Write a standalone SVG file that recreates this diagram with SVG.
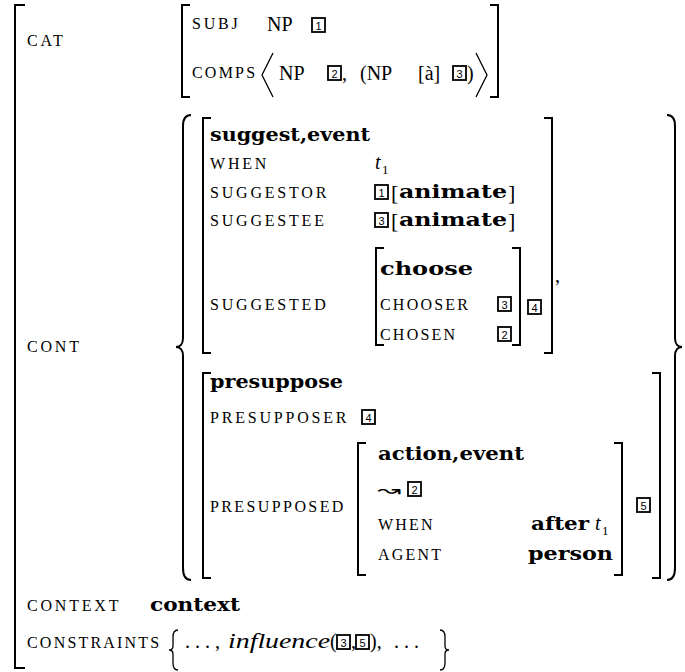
<svg xmlns="http://www.w3.org/2000/svg" width="685" height="672" viewBox="0 0 685 672">
<style>
.sc{font-family:"Liberation Serif",serif;font-size:16px;letter-spacing:2.8px}
.rm{font-family:"Liberation Serif",serif;font-size:20px}
.bk{font-family:"Liberation Serif",serif;font-size:22px}
.bf{font-family:"DejaVu Serif",serif;font-weight:bold;font-size:18px}
.it{font-family:"Liberation Serif",serif;font-style:italic;font-size:20px}
.sub{font-family:"Liberation Serif",serif;font-size:13px}
.br{fill:none;stroke:#000;stroke-width:2}
.thin{fill:none;stroke:#000;stroke-width:1.3}
.box{fill:#fff;stroke:#000;stroke-width:1.8}
.num{font-family:"Liberation Sans",sans-serif;font-size:11px;text-anchor:middle}
</style>
<rect width="685" height="672" fill="#fff"/>
<!-- outer bracket -->
<path class="br" d="M25,5 H15 V668 H25"/>
<!-- CAT -->
<text class="sc" x="27" y="46">CAT</text>
<path class="br" d="M190,5 H182 V97 H190"/>
<path class="br" d="M490,5 H498 V97 H490"/>
<text class="sc" x="192" y="29">SUBJ</text>
<text class="rm" x="267" y="31">NP</text>
<rect class="box" x="312" y="18" width="13" height="14"/><text class="num" x="318.5" y="29.5">1</text>
<text class="sc" x="192" y="78" style="letter-spacing:2.2px">COMPS</text>
<path class="thin" d="M273,53 L262,75 L273,97"/>
<text class="rm" x="279" y="80">NP</text>
<rect class="box" x="328" y="66" width="13" height="14"/><text class="num" x="334.5" y="77.5">2</text>
<text class="rm" x="342" y="80">,</text>
<text class="rm" x="360" y="80">(NP</text>
<text class="rm" x="418" y="80">[à]</text>
<rect class="box" x="453" y="66" width="13" height="14"/><text class="num" x="459.5" y="77.5">3</text>
<text class="rm" x="467" y="80">)</text>
<path class="thin" d="M476,53 L487,75 L476,97"/>
<!-- CONT -->
<text class="sc" x="27" y="352">CONT</text>
<path class="br" d="M191,115 C185,115 183,119 183,126 L183,338 C183,344 180,347 176,347 C180,347 183,350 183,356 L183,568 C183,575 185,580 191,580"/>
<path class="br" d="M667,115 C673,115 675,119 675,126 L675,338 C675,344 678,347 682,347 C678,347 675,350 675,356 L675,568 C675,575 673,580 667,580"/>
<!-- suggest matrix -->
<path class="br" d="M211,118 H203 V353 H211"/>
<path class="br" d="M544,118 H552 V353 H544"/>
<text class="bf" x="210" y="141" textLength="160" lengthAdjust="spacingAndGlyphs">suggest,event</text>
<text class="sc" x="210" y="169">WHEN</text>
<text class="it" x="375" y="169">t</text><text class="sub" x="382" y="174">1</text>
<text class="sc" x="210" y="198">SUGGESTOR</text>
<rect class="box" x="375" y="185" width="13" height="14"/><text class="num" x="381.5" y="196.5">1</text>
<text class="bk" x="391" y="200">[</text>
<text class="bf" x="399" y="198" textLength="108" lengthAdjust="spacingAndGlyphs">animate</text>
<text class="bk" x="508" y="200">]</text>
<text class="sc" x="210" y="226">SUGGESTEE</text>
<rect class="box" x="375" y="213" width="13" height="14"/><text class="num" x="381.5" y="224.5">3</text>
<text class="bk" x="391" y="228">[</text>
<text class="bf" x="399" y="226" textLength="108" lengthAdjust="spacingAndGlyphs">animate</text>
<text class="bk" x="508" y="228">]</text>
<text class="sc" x="210" y="310">SUGGESTED</text>
<path class="br" d="M384,248 H376 V345 H384"/>
<path class="br" d="M512,248 H520 V345 H512"/>
<text class="bf" x="380" y="275" textLength="93" lengthAdjust="spacingAndGlyphs">choose</text>
<text class="sc" x="380" y="310" style="letter-spacing:2.2px">CHOOSER</text>
<rect class="box" x="498" y="297" width="13" height="14"/><text class="num" x="504.5" y="308.5">3</text>
<text class="sc" x="380" y="340" style="letter-spacing:2.2px">CHOSEN</text>
<rect class="box" x="498" y="327" width="13" height="14"/><text class="num" x="504.5" y="338.5">2</text>
<rect class="box" x="528" y="300" width="13" height="14"/><text class="num" x="534.5" y="311.5">4</text>
<text class="rm" x="555" y="282">,</text>
<!-- presuppose matrix -->
<path class="br" d="M211,373 H203 V578 H211"/>
<path class="br" d="M652,373 H660 V578 H652"/>
<text class="bf" x="210" y="388" textLength="133" lengthAdjust="spacingAndGlyphs">presuppose</text>
<text class="sc" x="210" y="423">PRESUPPOSER</text>
<rect class="box" x="362" y="410" width="13" height="14"/><text class="num" x="368.5" y="421.5">4</text>
<text class="sc" x="210" y="512" style="letter-spacing:2.4px">PRESUPPOSED</text>
<path class="br" d="M366,443 H358 V575 H366"/>
<path class="br" d="M614,443 H622 V575 H614"/>
<text class="bf" x="378" y="460" textLength="146" lengthAdjust="spacingAndGlyphs">action,event</text>
<text style="font-family:'DejaVu Sans',sans-serif;font-size:17px" x="377" y="496" textLength="24" lengthAdjust="spacingAndGlyphs">↝</text>
<rect class="box" x="408" y="482" width="13" height="14"/><text class="num" x="414.5" y="493.5">2</text>
<text class="sc" x="378" y="530" style="letter-spacing:2.2px">WHEN</text>
<text class="bf" x="531" y="530" textLength="58" lengthAdjust="spacingAndGlyphs">after</text>
<text class="it" x="595" y="530">t</text><text class="sub" x="602" y="535">1</text>
<text class="sc" x="378" y="560" style="letter-spacing:2.2px">AGENT</text>
<text class="bf" x="528" y="560" textLength="85" lengthAdjust="spacingAndGlyphs">person</text>
<rect class="box" x="637" y="498" width="13" height="14"/><text class="num" x="643.5" y="509.5">5</text>
<!-- CONTEXT -->
<text class="sc" x="27" y="611">CONTEXT</text>
<text class="bf" x="150" y="611" textLength="90" lengthAdjust="spacingAndGlyphs">context</text>
<text class="sc" x="27" y="648" style="letter-spacing:2.2px">CONSTRAINTS</text>
<path class="thin" d="M178,630 C174,630 173,633 173,637 L173,646 C173,649 172,650 169,650 C172,650 173,651 173,654 L173,663 C173,667 174,670 178,670"/>
<text class="rm" x="185" y="648">. . . ,</text>
<text class="it" x="228" y="648" textLength="102" lengthAdjust="spacingAndGlyphs">influence</text>
<text class="rm" x="330" y="648">(</text>
<rect class="box" x="337" y="635" width="13" height="14"/><text class="num" x="343.5" y="646.5">3</text>
<text class="rm" x="351" y="648">,</text>
<rect class="box" x="356" y="635" width="13" height="14"/><text class="num" x="362.5" y="646.5">5</text>
<text class="rm" x="370" y="648">),</text>
<text class="rm" x="394" y="648">. . .</text>
<path class="thin" d="M440,630 C444,630 445,633 445,637 L445,646 C445,649 446,650 449,650 C446,650 445,651 445,654 L445,663 C445,667 444,670 440,670"/>
</svg>
